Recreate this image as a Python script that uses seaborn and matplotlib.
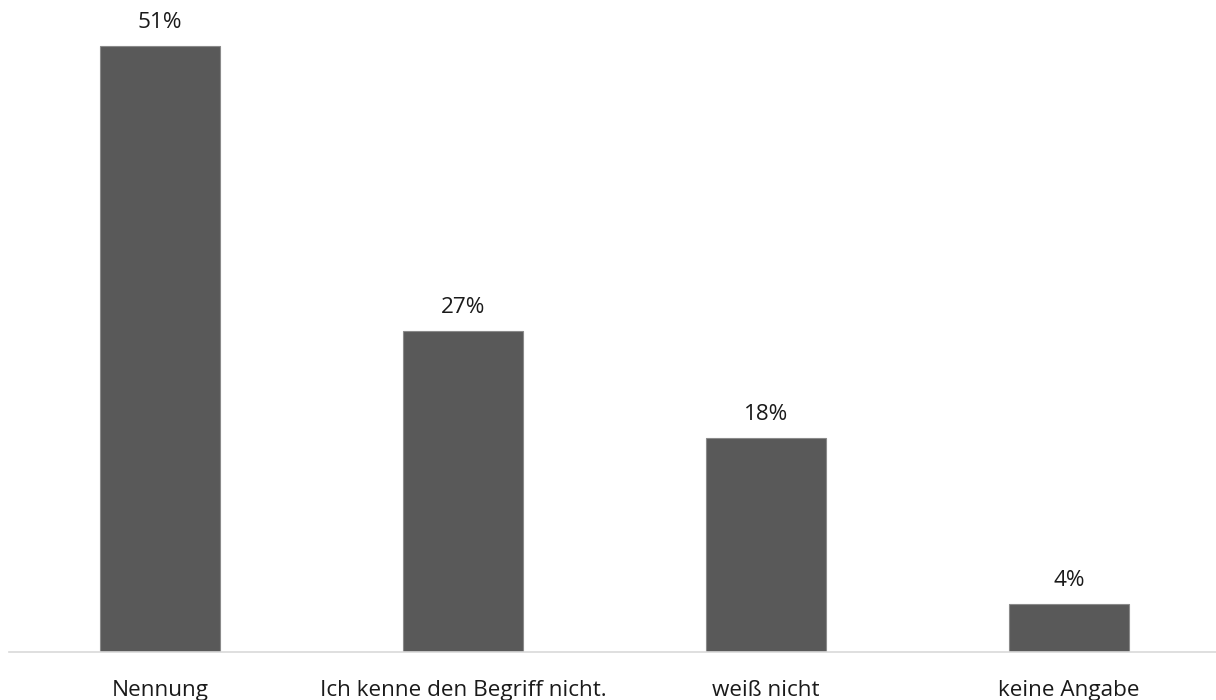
import matplotlib
matplotlib.use("Agg")
import matplotlib.pyplot as plt
import seaborn as sns
import pandas as pd

categories = ["Nennung", "Ich kenne den Begriff nicht.", "weiß nicht", "keine Angabe"]
values = [51, 27, 18, 4]
value_labels = ["51%", "27%", "18%", "4%"]

sns.set_theme(style="white")
plt.rcParams["font.family"] = ["Open Sans", "DejaVu Sans"]

df = pd.DataFrame({"Kategorie": categories, "Anteil": values})

W, H = 1216, 700
fig = plt.figure(figsize=(W / 100, H / 100), dpi=100)
# axes: 4 category slots of 303 px each, baseline 48 px above the bottom
ax = fig.add_axes([8.5 / W, 48 / H, 1212 / W, 647.5 / H])

sns.barplot(data=df, x="Kategorie", y="Anteil", color="#595959",
            width=0.396, edgecolor="#8a8a8a", linewidth=0.8,
            saturation=1, ax=ax)

ax.set_xlim(-0.5, 3.5)
ax.set_ylim(0, 54.5)
ax.set_xlabel("")
ax.set_ylabel("")
ax.set_yticks([])
for side in ["left", "right", "top"]:
    ax.spines[side].set_visible(False)
ax.spines["bottom"].set_color("#d9d9d9")
ax.spines["bottom"].set_linewidth(1.2)
ax.tick_params(axis="x", length=0, pad=20, labelsize=16.2, labelcolor="#1a1a1a")

for i, (v, lab) in enumerate(zip(values, value_labels)):
    ax.annotate(lab, (i, v), xytext=(0, 17), textcoords="offset points",
                ha="center", va="center", fontsize=16.2, color="#1a1a1a")

fig.savefig("out.png", dpi=100, facecolor="white")
